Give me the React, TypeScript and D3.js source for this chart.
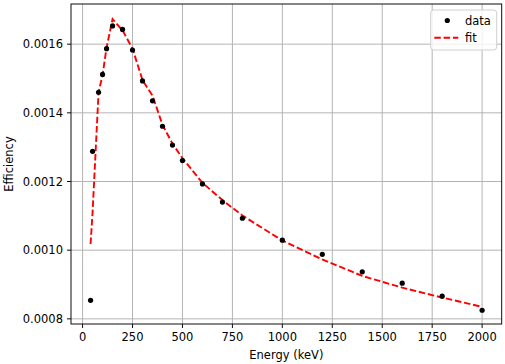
import React from "react";
import * as d3 from "d3";

const energies = [40, 50, 80, 100, 120, 150, 200, 250, 300, 350, 400, 450, 500, 600, 700, 800, 1000, 1200, 1400, 1600, 1800, 2000];
const dataValues = [0.000854, 0.001288, 0.00146, 0.001512, 0.001587, 0.001653, 0.001643, 0.001583, 0.001493, 0.001435, 0.001361, 0.001306, 0.001261, 0.001193, 0.00114, 0.001093, 0.001029, 0.000988, 0.000937, 0.000904, 0.000866, 0.000825];
const fitValues = [0.001018, 0.00111, 0.00146, 0.00151, 0.00159, 0.001673, 0.00164, 0.001587, 0.001495, 0.00145, 0.001365, 0.00131, 0.001268, 0.001196, 0.001146, 0.001101, 0.001028, 0.000973, 0.000925, 0.000891, 0.000862, 0.000835];
const xTicks = [0, 250, 500, 750, 1000, 1250, 1500, 1750, 2000];
const yTicks = [0.0008, 0.001, 0.0012, 0.0014, 0.0016];
const xLabel = "Energy (keV)";
const yLabel = "Efficiency";
const legendLabels = ["data", "fit"];

const W = 505, H = 364;
const L = 71, R = 501.7, T = 4, B = 324;
const FONT = "DejaVu Sans, sans-serif";
const FS = 11.5;

export default function App() {
  const x = d3.scaleLinear().domain([-58, 2098]).range([L, R]);
  const y = d3.scaleLinear().domain([0.000785, 0.001717]).range([B, T]);
  const line = d3.line<number>().x((_, i) => x(energies[i])).y((d) => y(d));
  const pathD = line(fitValues) || "";
  return (
    <svg width={W} height={H} style={{ position: "absolute", left: 0, top: 0, background: "#fff" }} fontFamily={FONT}>
      <rect x={0} y={0} width={W} height={H} fill="#fff" />
      {/* grid */}
      <g stroke="#b0b0b0" strokeWidth={0.95}>
        {xTicks.map((t) => (
          <line key={"gx" + t} x1={x(t)} x2={x(t)} y1={T} y2={B} />
        ))}
        {yTicks.map((t) => (
          <line key={"gy" + t} x1={L} x2={R} y1={y(t)} y2={y(t)} />
        ))}
      </g>
      {/* fit line */}
      <path d={pathD} fill="none" stroke="#ff0000" strokeWidth={1.9} strokeDasharray="6.5 2.8" />
      {/* data points */}
      {dataValues.map((v, i) => (
        <circle key={"p" + i} cx={x(energies[i])} cy={y(v)} r={2.6} fill="#000" />
      ))}
      {/* spines */}
      <rect x={L} y={T} width={R - L} height={B - T} fill="none" stroke="#000" strokeWidth={0.95} />
      {/* x ticks */}
      {xTicks.map((t) => (
        <g key={"xt" + t}>
          <line x1={x(t)} x2={x(t)} y1={B} y2={B + 4} stroke="#000" strokeWidth={0.95} />
          <text x={x(t)} y={B + 8} dy="0.76em" textAnchor="middle" fontSize={FS} fill="#000">{t}</text>
        </g>
      ))}
      {/* y ticks */}
      {yTicks.map((t) => (
        <g key={"yt" + t}>
          <line x1={L - 4} x2={L} y1={y(t)} y2={y(t)} stroke="#000" strokeWidth={0.95} />
          <text x={L - 8} y={y(t)} dy="0.36em" textAnchor="end" fontSize={FS} fill="#000">{t.toFixed(4)}</text>
        </g>
      ))}
      {/* axis labels */}
      <text x={(L + R) / 2} y={358.5} textAnchor="middle" fontSize={FS} fill="#000">{xLabel}</text>
      <text transform={`translate(12.5,${(T + B) / 2}) rotate(-90)`} textAnchor="middle" fontSize={FS} fill="#000">{yLabel}</text>
      {/* legend */}
      <g>
        <rect x={430.7} y={10} width={66} height={40} rx={3} fill="#fff" fillOpacity={0.8} stroke="#cccccc" strokeWidth={0.95} />
        <circle cx={447.3} cy={20.5} r={2.6} fill="#000" />
        <text x={465} y={20.5} dy="0.36em" fontSize={FS} fill="#000">{legendLabels[0]}</text>
        <line x1={434.3} x2={458.3} y1={37.7} y2={37.7} stroke="#ff0000" strokeWidth={1.9} strokeDasharray="6.5 2.8" />
        <text x={465} y={37.7} dy="0.36em" fontSize={FS} fill="#000">{legendLabels[1]}</text>
      </g>
    </svg>
  );
}
